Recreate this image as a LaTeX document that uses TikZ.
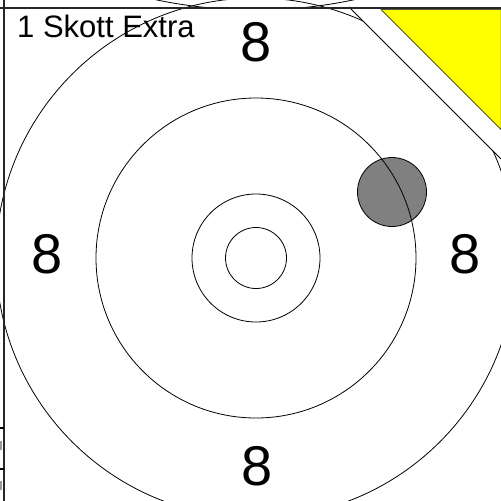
\documentclass[tikz,border=0pt]{standalone}
\usepackage{fontspec}
\setmainfont{Liberation Sans}
\usepackage{xcolor}
\definecolor{hitgray}{RGB}{128,128,128}
\definecolor{cornerYellow}{RGB}{255,255,0}
\usetikzlibrary{positioning}

\begin{document}
\begin{tikzpicture}[x=1pt, y=-1pt,
    ring/.style={draw=black, line width=0.8pt},
    frameline/.style={draw=black!85, line width=1.6pt},
    score/.style={font=\fontsize{56}{56}\selectfont, inner sep=0pt}]
    \useasboundingbox (0,0) rectangle (501,501);

    % Neighbouring target above the frame
    \begin{scope}
        \clip (0,0) rectangle (501,7);
        \draw[ring] (255,-470) circle (480);
    \end{scope}

    % Shot hole
    \coordinate (hit) at (392,192);
    \filldraw[fill=hitgray, draw=black, line width=0.8pt] (hit) circle (34.5);

    % Target rings
    \coordinate (C) at (256,258);
    \draw[ring] (C) circle (260);
    \draw[ring] (C) circle (160);
    \draw[ring] (C) circle (64);
    \draw[ring] (C) circle (30.5);

    % Folded corner
    \coordinate (foldA) at (349,7);
    \coordinate (foldB) at (501,159);
    \fill[white] (foldA) -- (501,7) -- (foldB) -- cycle;
    \draw[ring] (foldA) -- (foldB);
    \filldraw[fill=cornerYellow, draw=black, line width=0.5pt] (381,9.5) -- (501,9.5) -- (501,129.5) -- cycle;

    % Frame lines
    \draw[frameline] (0,8) -- (501,8);
    \draw[frameline] (4,0) -- (4,501);
    \draw[line width=1.2pt] (0,428) -- (4,428);
    \draw[line width=1.2pt] (0,469) -- (4,469);
    \fill[black!40] (0,441) rectangle (1.5,450);
    \fill[black!40] (0,481) rectangle (1.5,490);

    % Labels
    \node[anchor=base west, font=\fontsize{31}{31}\selectfont, inner sep=0pt] (title) at (17,37) {1 Skott Extra};
    \node[score] (scoreTop) at (256,42) {8};
    \node[score] (scoreLeft) at (47.5,254) {8};
    \node[score] (scoreRight) at (465,254) {8};
    \node[score] (scoreBottom) at (257,466) {8};
\end{tikzpicture}
\end{document}
